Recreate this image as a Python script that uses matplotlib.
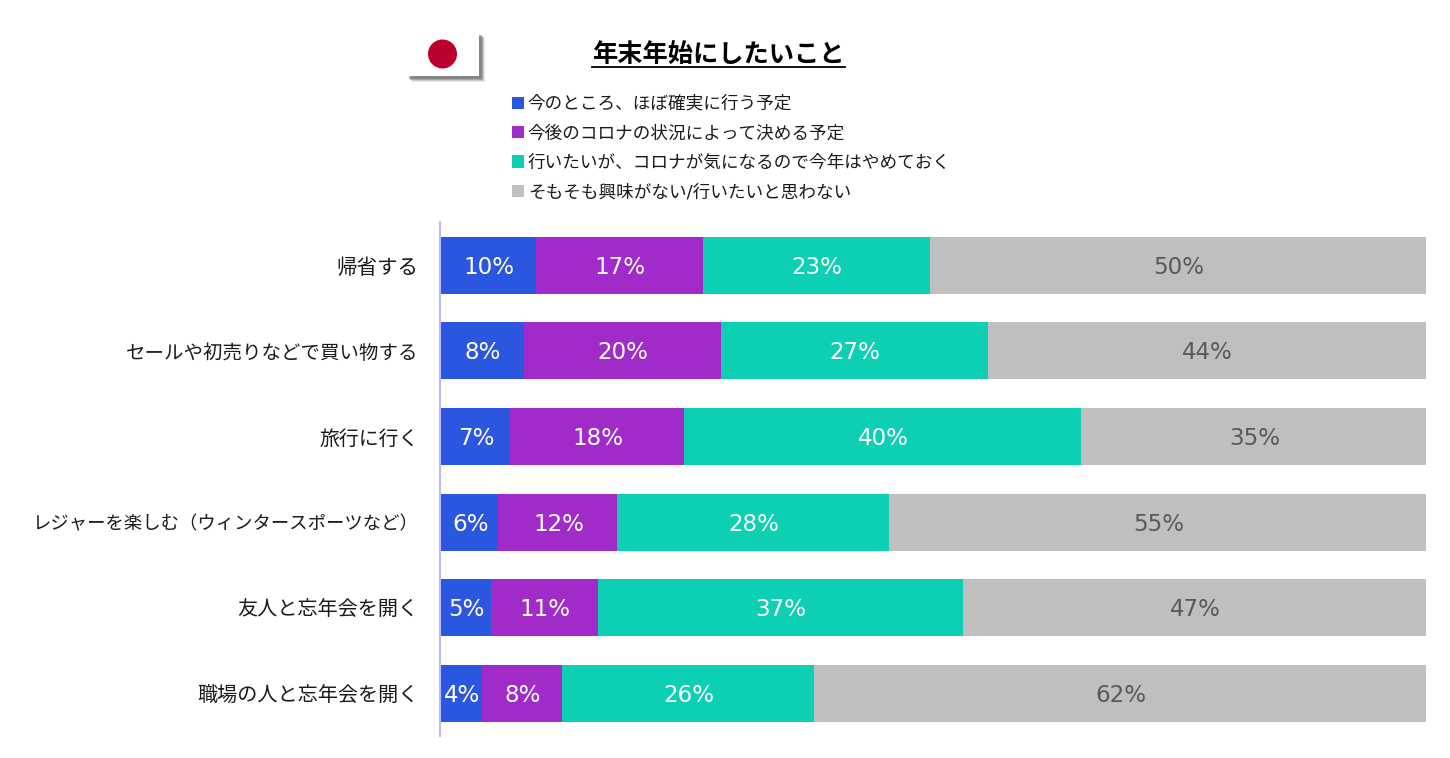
import numpy as np
import matplotlib
matplotlib.use('Agg')
import matplotlib.pyplot as plt
from matplotlib.patches import Rectangle, Circle
from matplotlib.lines import Line2D

plt.rcParams['font.family'] = ['DejaVu Sans', 'Noto Sans CJK JP']

title = '年末年始にしたいこと'
categories = ['帰省する', 'セールや初売りなどで買い物する', '旅行に行く',
              'レジャーを楽しむ（ウィンタースポーツなど）', '友人と忘年会を開く', '職場の人と忘年会を開く']
series_names = ['今のところ、ほぼ確実に行う予定', '今後のコロナの状況によって決める予定',
                '行いたいが、コロナが気になるので今年はやめておく', 'そもそも興味がない/行いたいと思わない']
sure = [9.6, 8.4, 7.0, 5.8, 5.1, 4.2]
depends = [17.0, 20.0, 17.7, 12.1, 10.8, 8.1]
holding_off = [23.0, 27.1, 40.3, 27.6, 37.1, 25.6]
no_interest = [50.4, 44.5, 35.0, 54.6, 47.0, 62.1]
colors = ['#2A56E0', '#A02BC8', '#0CCFB4', '#BFBFBF']
text_colors = ['white', 'white', 'white', '#595959']
label_sizes = [14.8, 14.0, 14.3, 13.2, 14.5, 14.5]

W, H = 1450, 758
fig = plt.figure(figsize=(W / 100, H / 100), dpi=100)
ax = fig.add_axes([441 / W, 1 - 736.3 / H, 985 / W, 514 / H])

y = np.arange(len(categories))
left = np.zeros(len(categories))
for vals, col, tc in zip([sure, depends, holding_off, no_interest], colors, text_colors):
    vals = np.array(vals)
    bars = ax.barh(y, vals, left=left, height=0.667, color=col, linewidth=0)
    for b, v in zip(bars, vals):
        ax.annotate(f'{round(v)}%', xy=(b.get_x() + v / 2, b.get_y() + b.get_height() / 2 + 0.025),
                    xytext=(0.5, 0), textcoords='offset points',
                    ha='center', va='center', color=tc, fontsize=16.6)
    left += vals

ax.set_xlim(0, 100)
ax.set_ylim(len(categories) - 0.5, -0.5)
ax.set_xticks([])
ax.set_yticks([])
# category labels sized one by one, the long one has to fit the left margin
for yi, cat, size in zip(y, categories, label_sizes):
    ax.annotate(cat, xy=(0, yi), xycoords=ax.get_yaxis_transform(), xytext=(-16, -1.8),
                textcoords='offset points', ha='right', va='center', fontsize=size, color='#1a1a1a')
for s in ['top', 'right', 'bottom']:
    ax.spines[s].set_visible(False)
ax.spines['left'].set_color('#B8B8FF')
ax.spines['left'].set_linewidth(1.5)
ax.spines['left'].set_position(('outward', 0.8))

# title with its underline
fig.text(718.5 / W, 1 - 55 / H, title, ha='center', va='center', fontsize=18.2, fontweight='bold', color='black')
fig.add_artist(Line2D([592 / W, 845 / W], [1 - 67 / H, 1 - 67 / H], color='black', lw=1.3))

# flag with a soft shadow
for off, a in [(6, 0.12), (5, 0.2), (4, 0.3), (3, 0.4)]:
    fig.add_artist(Rectangle(((406 + off) / W, 1 - (76 + off) / H), 73 / W, 44 / H,
                             transform=fig.transFigure, color='#555555', alpha=a, lw=0))
fig.add_artist(Rectangle((406 / W, 1 - 76 / H), 73 / W, 44 / H, transform=fig.transFigure, color='white', lw=0))
flag_ax = fig.add_axes([406 / W, 1 - 76 / H, 73 / W, 44 / H], zorder=5)
flag_ax.set_xlim(0, 73)
flag_ax.set_ylim(0, 44)
flag_ax.axis('off')
flag_ax.add_patch(Circle((36.5, 22), 14.5, color='#BC002D', lw=0))

handles = [Rectangle((0, 0), 1, 1, color=c, lw=0) for c in colors]
fig.legend(handles, series_names, loc='upper left', bbox_to_anchor=(496 / W, 1 - 79 / H), frameon=False,
           fontsize=12.7, handlelength=0.7, handleheight=0.7, handletextpad=0.2, labelspacing=0.65,
           labelcolor='#1a1a1a')

fig.savefig('out.png', dpi=100)
